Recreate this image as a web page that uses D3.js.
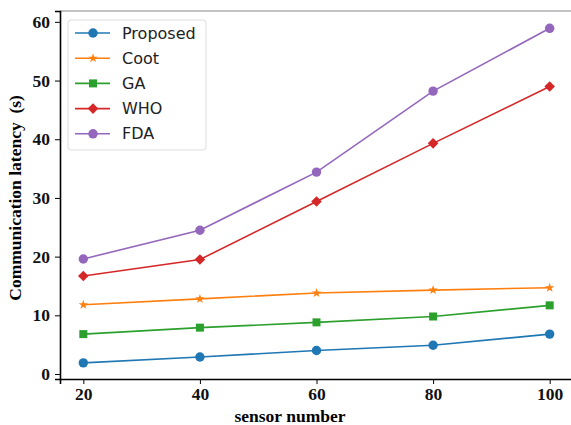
<!DOCTYPE html>
<html>
<head>
<meta charset="utf-8">
<script src="https://cdn.jsdelivr.net/npm/d3@7/dist/d3.min.js"></script>
<style>
  body { margin: 0; background: #fff; }
  svg { display: block; }
  .tick text { font-family: "Liberation Serif", "Times New Roman", serif; font-weight: bold; font-size: 17.5px; fill: #111; }
</style>
</head>
<body>
<div id="chart"></div>
<script>
/* Data */

var sensors = [20, 40, 60, 80, 100];
var proposed = [1.9, 2.9, 4.0, 4.9, 6.8];
var coot = [11.8, 12.8, 13.8, 14.3, 14.7];
var ga = [6.8, 7.9, 8.8, 9.8, 11.7];
var who = [16.7, 19.5, 29.4, 39.3, 49.0];
var fda = [19.6, 24.5, 34.4, 48.2, 58.9];
var seriesNames = ["Proposed", "Coot", "GA", "WHO", "FDA"];
var seriesColors = ["#1f77b4", "#ff7f0e", "#2ca02c", "#d62728", "#9467bd"];
var seriesMarkers = ["circle", "star", "square", "diamond", "circle"];
var yTicks = [0, 10, 20, 30, 40, 50, 60];

var series = [proposed, coot, ga, who, fda].map(function(vals, i) {
	return { name: seriesNames[i], color: seriesColors[i], marker: seriesMarkers[i], values: vals };
});

var width = 571, height = 425;
var margin = { left: 60, right: -2, top: 11, bottom: 46 };

var svg = d3.select("#chart").append("svg").attr("width", width).attr("height", height);

var x = d3.scaleLinear().domain([16, 104]).range([margin.left, width - margin.right]);
var y = d3.scaleLinear().domain([-0.85, 61.85]).range([height - margin.bottom, margin.top]);

// frame (top spine is lighter in the picture)
svg.append("line").attr("x1", margin.left).attr("x2", width).attr("y1", margin.top).attr("y2", margin.top)
	.attr("stroke", "#888").attr("stroke-width", 1.2);

var xAxis = svg.append("g").attr("transform", "translate(0," + (height - margin.bottom) + ")")
	.call(d3.axisBottom(x).tickValues(sensors).tickSize(5).tickPadding(4));
var yAxis = svg.append("g").attr("transform", "translate(" + margin.left + ",0)")
	.call(d3.axisLeft(y).tickValues(yTicks).tickSize(5).tickPadding(5));
[xAxis, yAxis].forEach(function(a) {
	a.select(".domain").attr("stroke", "#000").attr("stroke-width", 1.6);
	a.selectAll(".tick line").attr("stroke", "#000").attr("stroke-width", 1);
});

// axis titles
svg.append("text").attr("x", 290).attr("y", 422).attr("text-anchor", "middle")
	.style("font-family", "'Liberation Serif', serif").style("font-weight", "bold").style("font-size", "17.5px")
	.text("sensor number");
svg.append("text").attr("transform", "translate(21," + y(30) + ") rotate(-90)").attr("text-anchor", "middle")
	.style("font-family", "'Liberation Serif', serif").style("font-weight", "bold").style("font-size", "17.5px")
	.attr("xml:space", "preserve").text("Communication latency  (s)");

function markerPath(type, size) {
	var sym = { circle: d3.symbolCircle, star: d3.symbolStar, square: d3.symbolSquare, diamond: d3.symbolSquare }[type];
	return d3.symbol().type(sym).size(size)();
}
var markerSize = { circle: 70, star: 28, square: 64, diamond: 56 };
function markerTransform(type, px, py) {
	return "translate(" + px + "," + py + ")" + (type == "diamond" ? " rotate(45)" : "");
}

var line = d3.line().x(function(d, i) { return x(sensors[i]); }).y(function(d) { return y(d); });

var g = svg.append("g");
series.forEach(function(s) {
	g.append("path").datum(s.values).attr("d", line)
		.attr("fill", "none").attr("stroke", s.color).attr("stroke-width", 1.6);
	g.selectAll(null).data(s.values).enter().append("path")
		.attr("d", markerPath(s.marker, markerSize[s.marker]))
		.attr("transform", function(d, i) { return markerTransform(s.marker, x(sensors[i]), y(d)); })
		.attr("fill", s.color);
});

// legend
var legend = svg.append("g").attr("transform", "translate(68,20)");
legend.append("rect").attr("width", 138).attr("height", 130).attr("rx", 3)
	.attr("fill", "#fff").attr("fill-opacity", 0.8).attr("stroke", "#ddd");
series.forEach(function(s, i) {
	var ly = 13 + i * 25.2;
	legend.append("line").attr("x1", 7).attr("x2", 42).attr("y1", ly).attr("y2", ly)
		.attr("stroke", s.color).attr("stroke-width", 1.6);
	legend.append("path").attr("d", markerPath(s.marker, markerSize[s.marker]))
		.attr("transform", markerTransform(s.marker, 25, ly)).attr("fill", s.color);
	legend.append("text").attr("x", 54).attr("y", ly + 5.5)
		.style("font-family", "'DejaVu Sans', sans-serif").style("font-size", "16px").attr("fill", "#222")
		.text(s.name);
});
</script>
</body>
</html>
